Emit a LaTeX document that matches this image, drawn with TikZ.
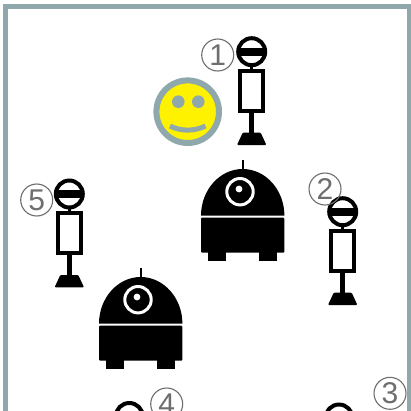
\documentclass[tikz,border=0pt]{standalone}
\usepackage{fontspec}
\setmainfont{Liberation Sans}
\definecolor{framegray}{HTML}{8FA8AB}
\definecolor{numgray}{HTML}{6E6E6E}
\tikzset{
    numlabel/.style={circle, draw=numgray, line width=1.1pt, text=numgray, minimum size=32pt, inner sep=0pt, font=\fontsize{30}{30}\selectfont},
    person/.pic={
        % head with band
        \draw[line width=4pt] (0,0) circle[radius=13.5pt];
        \fill (-13.5,-4) rectangle (13.5,4);
        % neck and body
        \draw[line width=3pt] (0,15) -- (0,18);
        \draw[line width=4pt] (-11.7,19.3) rectangle (11.7,59.3);
        % stem and base
        \draw[line width=4.5pt] (0,61) -- (0,82);
        \fill[rounded corners=1pt] (-9,81) -- (9,81) -- (14.7,93.3) -- (-14.7,93.3) -- cycle;
    },
    robot/.pic={
        % antenna
        \draw[line width=2pt] (0,-9.5) -- (0,2);
        % dome
        \fill (-41.7,46.7) .. controls (-41.7,21) and (-23,0) .. (0,0)
                           .. controls (23,0) and (41.7,21) .. (41.7,46.7) -- cycle;
        % eye
        \draw[white, line width=3pt] (-2.7,22.7) circle[radius=13.2pt];
        \fill[white] (-3.7,20) circle[radius=3.4pt];
        % lower body and feet
        \fill[rounded corners=1pt] (-41.7,48.7) rectangle (41.7,83.7);
        \fill (-34.4,83) rectangle (-16.7,91.7);
        \fill (16.3,83) rectangle (34.4,91.7);
    }
}
\begin{document}
\begin{tikzpicture}[x=1pt, y=-1pt]
    \useasboundingbox (0,0) rectangle (411,410);
    \clip (0,0) rectangle (411,410);
    \fill[white] (0,0) rectangle (411,410);

    % Room outline
    \draw[framegray, line width=4.8pt] (5.7,6.3) rectangle (409.6,440);

    % People
    \pic at (251.7,51.7) {person};
    \pic at (342.7,211.7) {person};
    \pic at (339,418) {person};
    \pic at (129.3,416.5) {person};
    \pic at (69.3,194) {person};

    % Robots
    \pic at (242.7,169) {robot};
    \pic at (140.7,277) {robot};

    % Smiley
    \draw[framegray, line width=6pt, fill=yellow] (187.7,111.7) circle[radius=31.3pt];
    \fill[framegray] (178.3,101.7) circle[radius=6.3pt];
    \fill[framegray] (198.3,101.7) circle[radius=6.3pt];
    \draw[framegray, line width=5pt] (170,126) .. controls (181,131.5) and (194,131.5) .. (205.5,126);

    % Numbers
    \node[numlabel] (numone) at (217.7,55) {1};
    \node[numlabel] (numtwo) at (325,189) {2};
    \node[numlabel] (numthree) at (390,393.3) {3};
    \node[numlabel] (numfour) at (166.7,404) {4};
    \node[numlabel] (numfive) at (36.7,200) {5};
\end{tikzpicture}
\end{document}
